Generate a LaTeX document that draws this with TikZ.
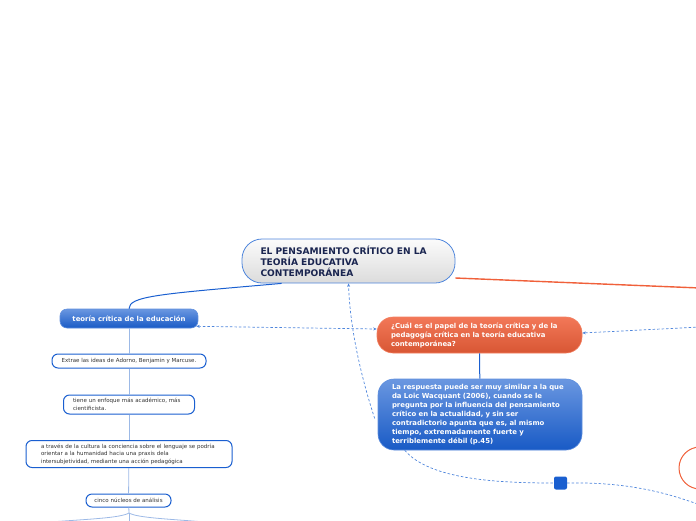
\documentclass[tikz,border=0pt]{standalone}
\usepackage{fontspec}
\setmainfont{DejaVu Sans}
\usetikzlibrary{arrows.meta,positioning}

\definecolor{mapblue}{HTML}{1A5FD0}
\definecolor{mapnavy}{HTML}{1A2550}
\definecolor{maporange}{HTML}{F0603A}
\definecolor{maplink}{HTML}{4F86DC}
\definecolor{mapstem}{HTML}{9CB9E6}

\begin{document}
\begin{tikzpicture}[
    x=1pt, y=-1pt,
    >=Stealth,
    central/.style={
        rectangle, rounded corners=20pt, draw=maplink, line width=0.8pt,
        top color=gray!3, bottom color=gray!28,
        minimum width=213pt, minimum height=44pt,
        text width=176pt, inner xsep=18.5pt, align=left,
        font=\fontsize{9.1}{11}\selectfont\bfseries, text=mapnavy
    },
    topic/.style={
        rectangle, rounded corners=#1, draw=mapblue!70, line width=0.6pt,
        top color=mapblue!65, bottom color=mapblue!95!black,
        text=white, font=\fontsize{6.9}{9}\selectfont\bfseries
    },
    topic/.default=7pt,
    question/.style={
        rectangle, rounded corners=16pt, draw=maporange!80, line width=0.6pt,
        top color=maporange!85, bottom color=maporange!90!black,
        text=white, font=\fontsize{6.9}{9}\selectfont\bfseries
    },
    leaf/.style={
        rectangle, rounded corners=6pt, draw=mapblue, line width=1pt,
        fill=white, text=black!80, font=\fontsize{5.5}{7.4}\selectfont
    },
    stem/.style={draw=mapstem, line width=0.8pt},
    link/.style={draw=maplink, dashed, dash pattern=on 2.5pt off 2pt,
        line width=0.7pt, arrows={-Stealth[length=3.5pt, width=3pt]}},
]
\useasboundingbox (0,0) rectangle (696,520);

% ── Central topic ──
\node[central] (main) at (348.5,261) {
    EL PENSAMIENTO CRÍTICO EN LA\\
    TEORÍA EDUCATIVA\\
    CONTEMPORÁNEA
};

% ── Left branch ──
\node[topic, minimum width=138pt, minimum height=19pt] (teoria) at (129,318.5)
    {teoría crítica de la educación};
\node[leaf, minimum width=154pt, minimum height=14pt] (extrae) at (129,361)
    {Extrae las ideas de Adorno, Benjamin y Marcuse.};
\node[leaf, minimum height=19pt, text width=112pt, inner xsep=9.5pt, align=left] (enfoque) at (129,404.5)
    {tiene un enfoque más académico, más\\cientificista.};
\node[leaf, minimum height=26pt, text width=176pt, inner xsep=15pt, align=left] (cultura) at (129,454)
    {a través de la cultura la conciencia sobre el lenguaje se podría\\
     orientar a la humanidad hacia una praxis dela\\
     intersubjetividad, mediante una acción pedagógica};
\node[leaf, minimum width=85pt, minimum height=13pt] (nucleos) at (128.5,500.5)
    {cinco núcleos de análisis};

% ── Question and answer ──
\node[question, minimum height=36pt, text width=177pt, inner xsep=14pt, align=left] (pregunta) at (479.5,335) {
    ¿Cuál es el papel de la teoría crítica y de la\\
    pedagogía crítica en la teoría educativa\\
    contemporánea?
};
\node[topic=16pt, minimum height=71pt, text width=176pt, inner xsep=14pt, align=left,
      font=\fontsize{6.9}{9}\selectfont\bfseries] (respuesta) at (480,414.5) {
    La respuesta puede ser muy similar a la que\\
    da Loic Wacquant (2006), cuando se le\\
    pregunta por la influencia del pensamiento\\
    crítico en la actualidad, y sin ser\\
    contradictorio apunta que es, al mismo\\
    tiempo, extremadamente fuerte y\\
    terriblemente débil (p.45)
};

% ── Floating bits ──
\node[rectangle, rounded corners=2pt, fill=mapblue, minimum size=13pt, inner sep=0pt] (nota) at (560.5,483) {};
\node[circle, draw=maporange, line width=1pt, fill=white, minimum size=42pt] (otro) at (700,468) {};
\draw[gray!55, dashed, line width=0.8pt] (696,452) -- (696,485);

% ── Off-page ends ──
\coordinate (farright) at (700,288);
\coordinate (farlink) at (700,327);
\coordinate (farnota) at (700,505);
\coordinate (fork) at (129,513);
\coordinate (forkL) at (50,522);
\coordinate (forkR) at (205,522);
\coordinate (forkM) at (129,526);

% ── Main branches ──
\draw[mapblue, line width=1pt] ([xshift=40pt]main.south west)
    .. controls (160,294) and (129,296) .. (teoria.north);
\draw[maporange, line width=1.4pt] ([yshift=-17pt]main.east) -- (farright);
\draw[mapblue, line width=1pt] (pregunta) -- (respuesta);

% ── Tree stems ──
\draw[stem] (teoria) -- (extrae);
\draw[stem] (extrae) -- (enfoque);
\draw[stem] (enfoque) -- (cultura);
\draw[stem] (cultura) -- (nucleos);
\draw[stem] (nucleos) -- (fork);
\draw[stem] (fork) .. controls (120,518) and (90,519) .. (forkL);
\draw[stem] (fork) .. controls (138,518) and (170,519) .. (forkR);
\draw[stem] (fork) -- (forkM);

% ── Relations ──
\draw[link, {Stealth[length=3.5pt, width=3pt]}-{Stealth[length=3.5pt, width=3pt]}]
    ([xshift=-2pt,yshift=2pt]teoria.south east) -- ([yshift=6pt]pregunta.west);
\draw[link] (farlink) -- ([yshift=2pt]pregunta.east);
\draw[link] ([xshift=-3pt,yshift=-4pt]respuesta.west)
    .. controls (362,380) and (350,330) .. (main.south);
\draw[link, -] ([xshift=27pt]respuesta.south west)
    .. controls (430,480) and (500,483) .. (nota.west);
\draw[link, -] (nota.east) .. controls (620,482) and (660,490) .. (farnota);

\end{tikzpicture}
\end{document}
